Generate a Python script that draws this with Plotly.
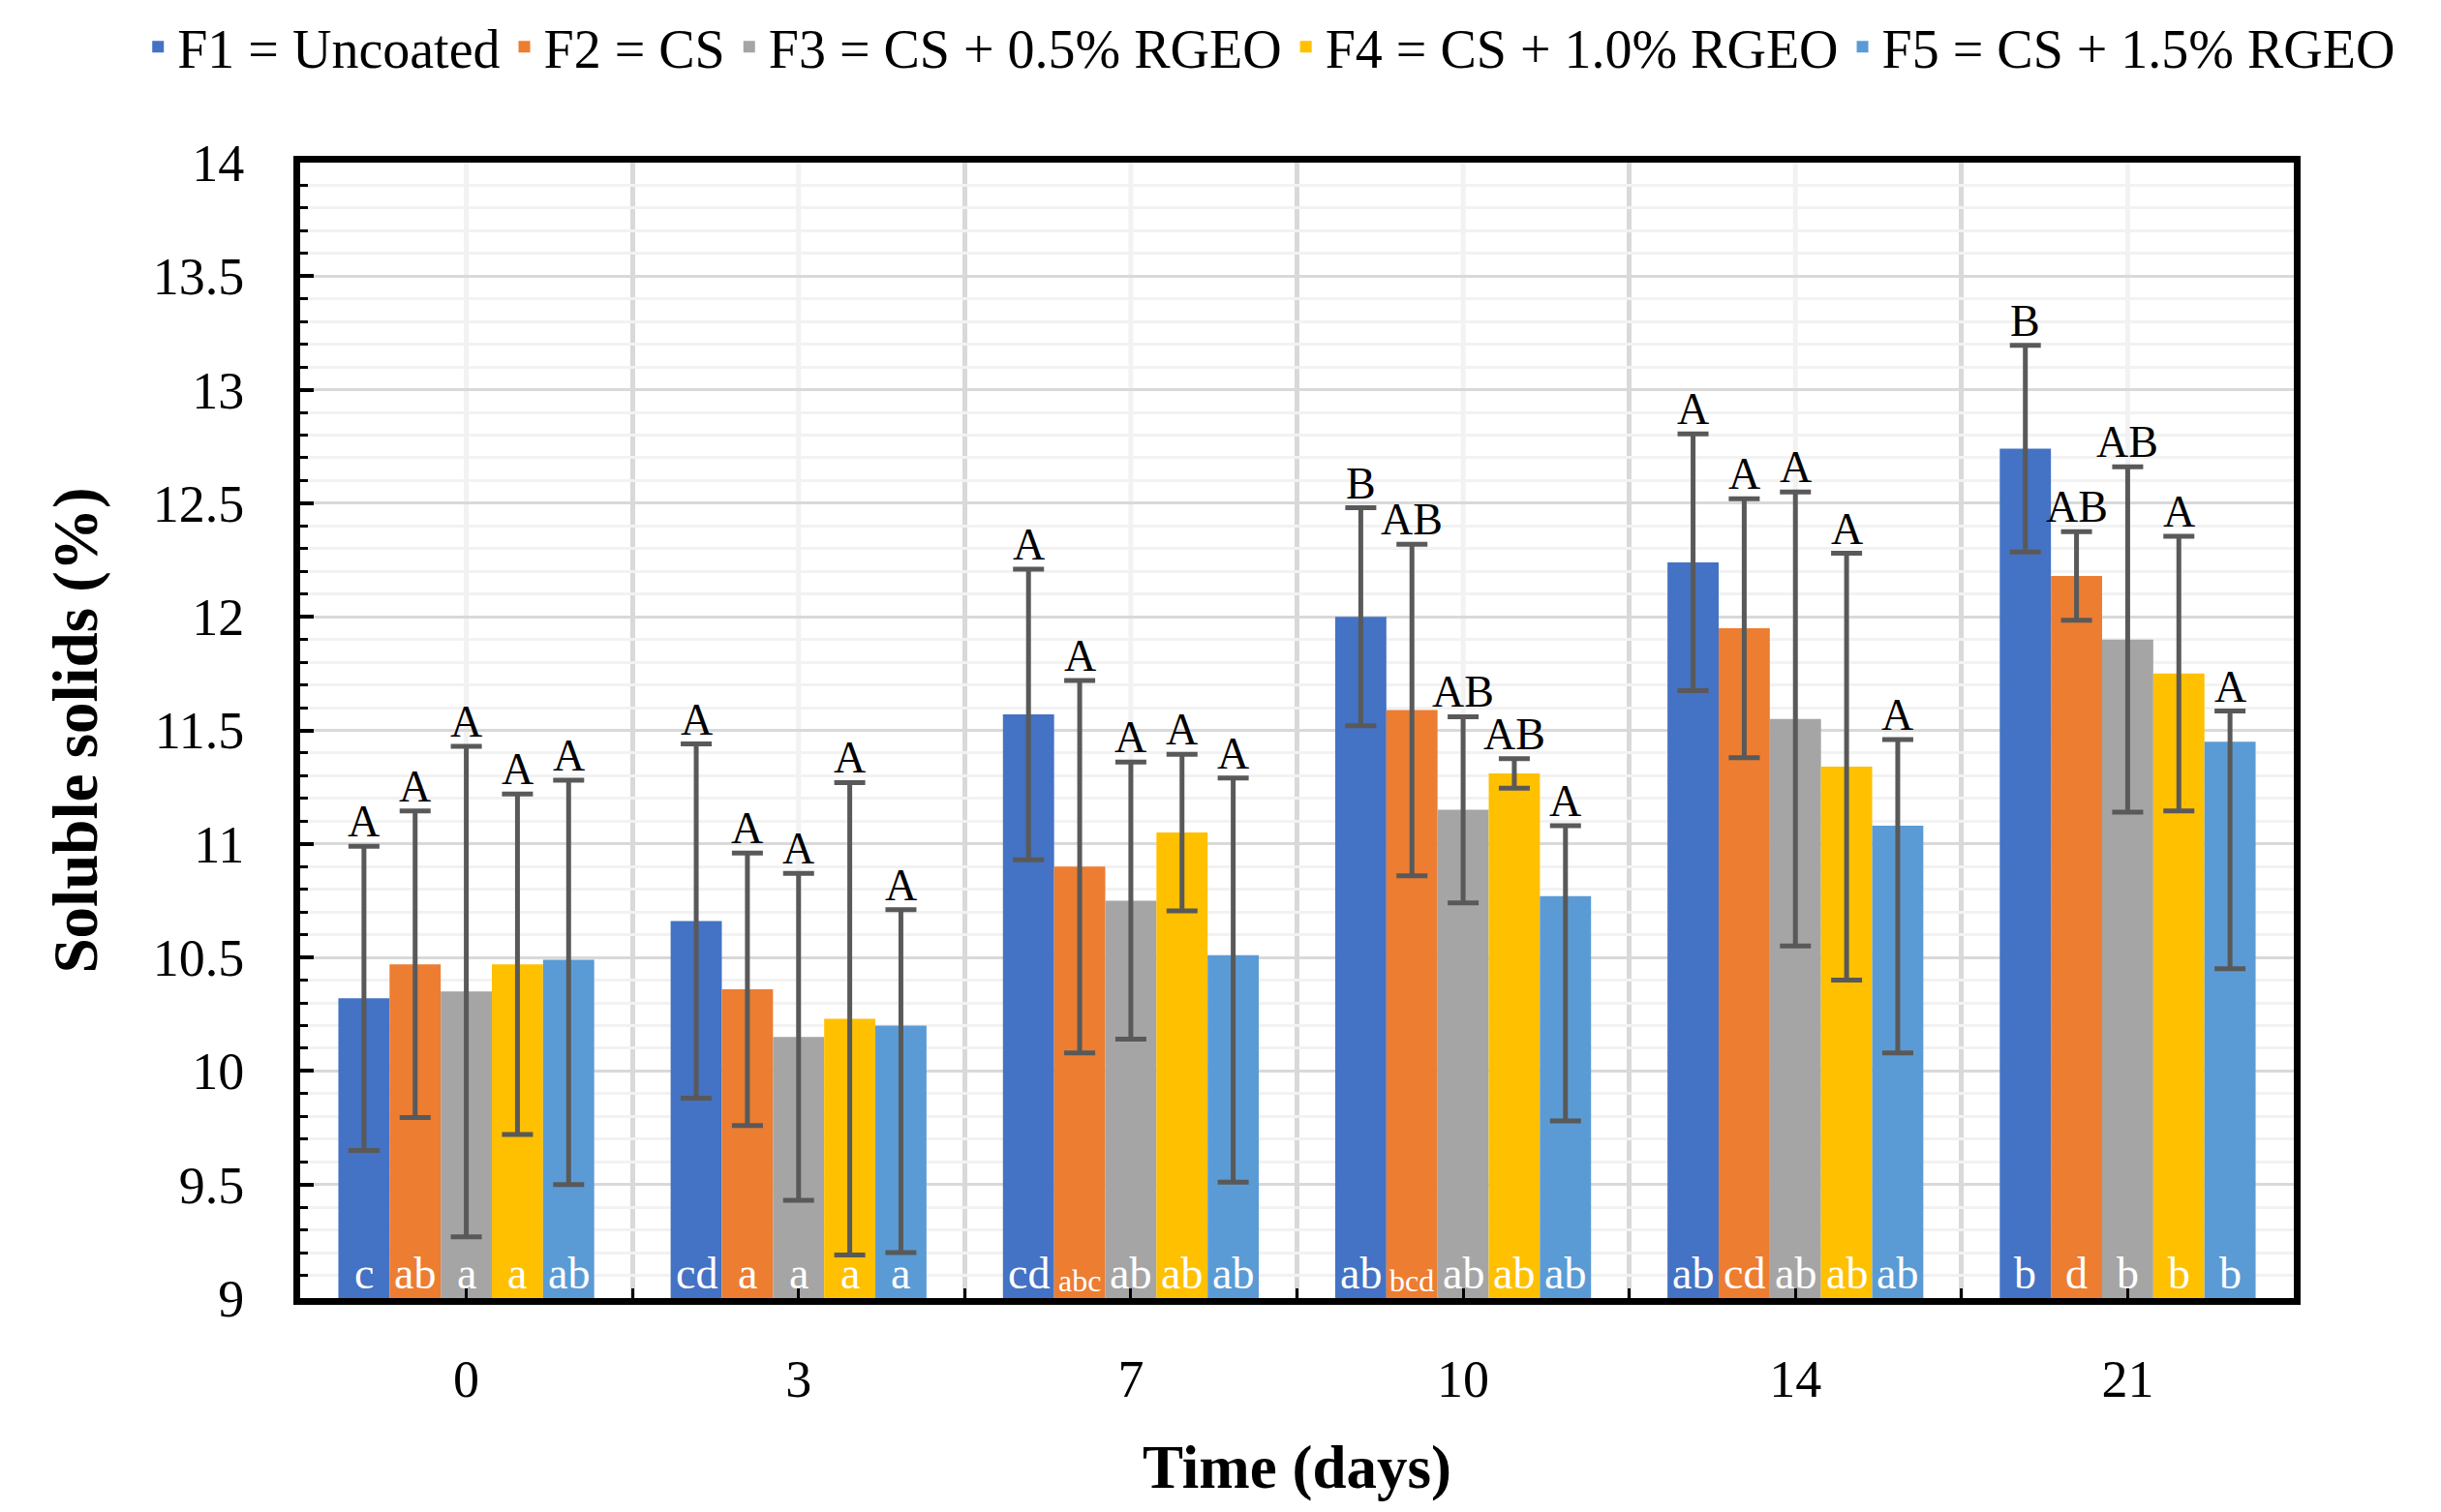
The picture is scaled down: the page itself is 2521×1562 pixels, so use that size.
import plotly.graph_objects as go

days = ["0", "3", "7", "10", "14", "21"]
series_names = ["F1 = Uncoated", "F2 = CS", "F3 = CS + 0.5% RGEO",
                "F4 = CS + 1.0% RGEO", "F5 = CS + 1.5% RGEO"]
colors = ["#4472C4", "#ED7D31", "#A5A5A5", "#FFC000", "#5B9BD5"]

f1 = [10.32, 10.66, 11.57, 12.00, 12.24, 12.74]
f2 = [10.47, 10.36, 10.90, 11.59, 11.95, 12.18]
f3 = [10.35, 10.15, 10.75, 11.15, 11.55, 11.90]
f4 = [10.47, 10.23, 11.05, 11.31, 11.34, 11.75]
f5 = [10.49, 10.20, 10.51, 10.77, 11.08, 11.45]

f1_err_plus = [0.67, 0.78, 0.64, 0.48, 0.565, 0.455]
f2_err_plus = [0.675, 0.60, 0.82, 0.73, 0.57, 0.195]
f3_err_plus = [1.08, 0.72, 0.61, 0.41, 1.00, 0.76]
f4_err_plus = [0.75, 1.04, 0.345, 0.065, 0.94, 0.605]
f5_err_plus = [0.79, 0.51, 0.78, 0.31, 0.38, 0.135]

f1_err_minus = [0.67, 0.78, 0.64, 0.48, 0.565, 0.455]
f2_err_minus = [0.675, 0.60, 0.82, 0.73, 0.57, 0.195]
f3_err_minus = [1.08, 0.72, 0.61, 0.41, 1.00, 0.76]
f4_err_minus = [0.75, 1.04, 0.345, 0.065, 0.94, 0.605]
f5_err_minus = [0.99, 1.00, 1.00, 0.99, 1.00, 1.00]

f1_upper = ["A", "A", "A", "B", "A", "B"]
f2_upper = ["A", "A", "A", "AB", "A", "AB"]
f3_upper = ["A", "A", "A", "AB", "A", "AB"]
f4_upper = ["A", "A", "A", "AB", "A", "A"]
f5_upper = ["A", "A", "A", "A", "A", "A"]

f1_lower = ["c", "cd", "cd", "ab", "ab", "b"]
f2_lower = ["ab", "a", "abc", "bcd", "cd", "d"]
f3_lower = ["a", "a", "ab", "ab", "ab", "b"]
f4_lower = ["a", "a", "ab", "ab", "ab", "b"]
f5_lower = ["ab", "a", "ab", "ab", "ab", "b"]

y_ticks = [9, 9.5, 10, 10.5, 11, 11.5, 12, 12.5, 13, 13.5, 14]

values = [f1, f2, f3, f4, f5]
err_plus = [f1_err_plus, f2_err_plus, f3_err_plus, f4_err_plus, f5_err_plus]
err_minus = [f1_err_minus, f2_err_minus, f3_err_minus, f4_err_minus, f5_err_minus]
upper = [f1_upper, f2_upper, f3_upper, f4_upper, f5_upper]
lower = [f1_lower, f2_lower, f3_lower, f4_lower, f5_lower]

FONT = "Liberation Serif"
bargap = 0.23
n = len(series_names)
bw = (1 - bargap) / n
xpos = list(range(len(days)))

fig = go.Figure()
for i in range(n):
    fig.add_trace(go.Bar(
        x=xpos, y=values[i], name=series_names[i],
        marker=dict(color=colors[i], line=dict(width=0)),
        error_y=dict(type="data", symmetric=False, array=err_plus[i],
                     arrayminus=err_minus[i], color="#595959",
                     thickness=5, width=16),
    ))

annotations = []
for i in range(n):
    off = (i - (n - 1) / 2) * bw
    for j in range(len(days)):
        annotations.append(dict(
            x=xpos[j] + off, y=values[i][j] + err_plus[i][j], xref="x", yref="y",
            text=upper[i][j], showarrow=False, yanchor="bottom", yshift=-2,
            font=dict(family=FONT, size=46, color="black")))
        txt = lower[i][j]
        annotations.append(dict(
            x=xpos[j] + off, y=9, xref="x", yref="y",
            text=txt, showarrow=False, yanchor="bottom", yshift=-2,
            font=dict(family=FONT, size=32 if len(txt) > 2 else 46, color="white")))

shapes = []
for j in xpos:
    shapes.append(dict(type="line", xref="x", yref="y domain", x0=j, x1=j,
                       y0=0, y1=1, layer="below",
                       line=dict(color="#f2f2f2", width=5)))

fig.update_layout(
    width=2521, height=1562,
    margin=dict(l=302, r=160, t=160, b=229, autoexpand=False),
    paper_bgcolor="white", plot_bgcolor="white",
    barmode="group", bargap=bargap, bargroupgap=0,
    font=dict(family=FONT, size=54, color="black"),
    showlegend=True,
    legend=dict(orientation="h", x=-0.081, xanchor="left", y=1.102, yanchor="middle",
                font=dict(family=FONT, size=56), itemsizing="constant",
                tracegroupgap=0, itemwidth=30, bgcolor="rgba(0,0,0,0)"),
    annotations=annotations,
    shapes=shapes,
)

fig.update_xaxes(
    range=[-0.5, len(days) - 0.5],
    tickmode="array", tickvals=xpos, ticktext=days,
    showgrid=False,
    showline=True, linewidth=7, linecolor="black", mirror=True,
    ticks="inside", ticklen=10, tickwidth=3, tickcolor="black",
    ticklabelstandoff=30,
    tickfont=dict(family=FONT, size=54),
    minor=dict(tickmode="linear", tick0=0.5, dtick=1, showgrid=True,
               gridcolor="#d9d9d9", gridwidth=5, ticks="inside", ticklen=10,
               tickwidth=3, tickcolor="black"),
    title=dict(text="<b>Time (days)</b>", font=dict(family=FONT, size=63), standoff=42),
    zeroline=False,
)

fig.update_yaxes(
    range=[9, 14],
    tickmode="array", tickvals=y_ticks,
    showgrid=True, gridcolor="#d9d9d9", gridwidth=3,
    showline=True, linewidth=7, linecolor="black", mirror=True,
    ticks="inside", ticklen=14, tickwidth=4, tickcolor="black",
    ticklabelstandoff=40,
    tickfont=dict(family=FONT, size=54),
    minor=dict(tickmode="linear", tick0=9, dtick=0.1, showgrid=True,
               gridcolor="#f2f2f2", gridwidth=3, ticks="inside", ticklen=8,
               tickwidth=3, tickcolor="black"),
    title=dict(text="<b>Soluble solids (%)</b>", font=dict(family=FONT, size=65), standoff=38),
    zeroline=False,
)

fig.write_html("out.html")
